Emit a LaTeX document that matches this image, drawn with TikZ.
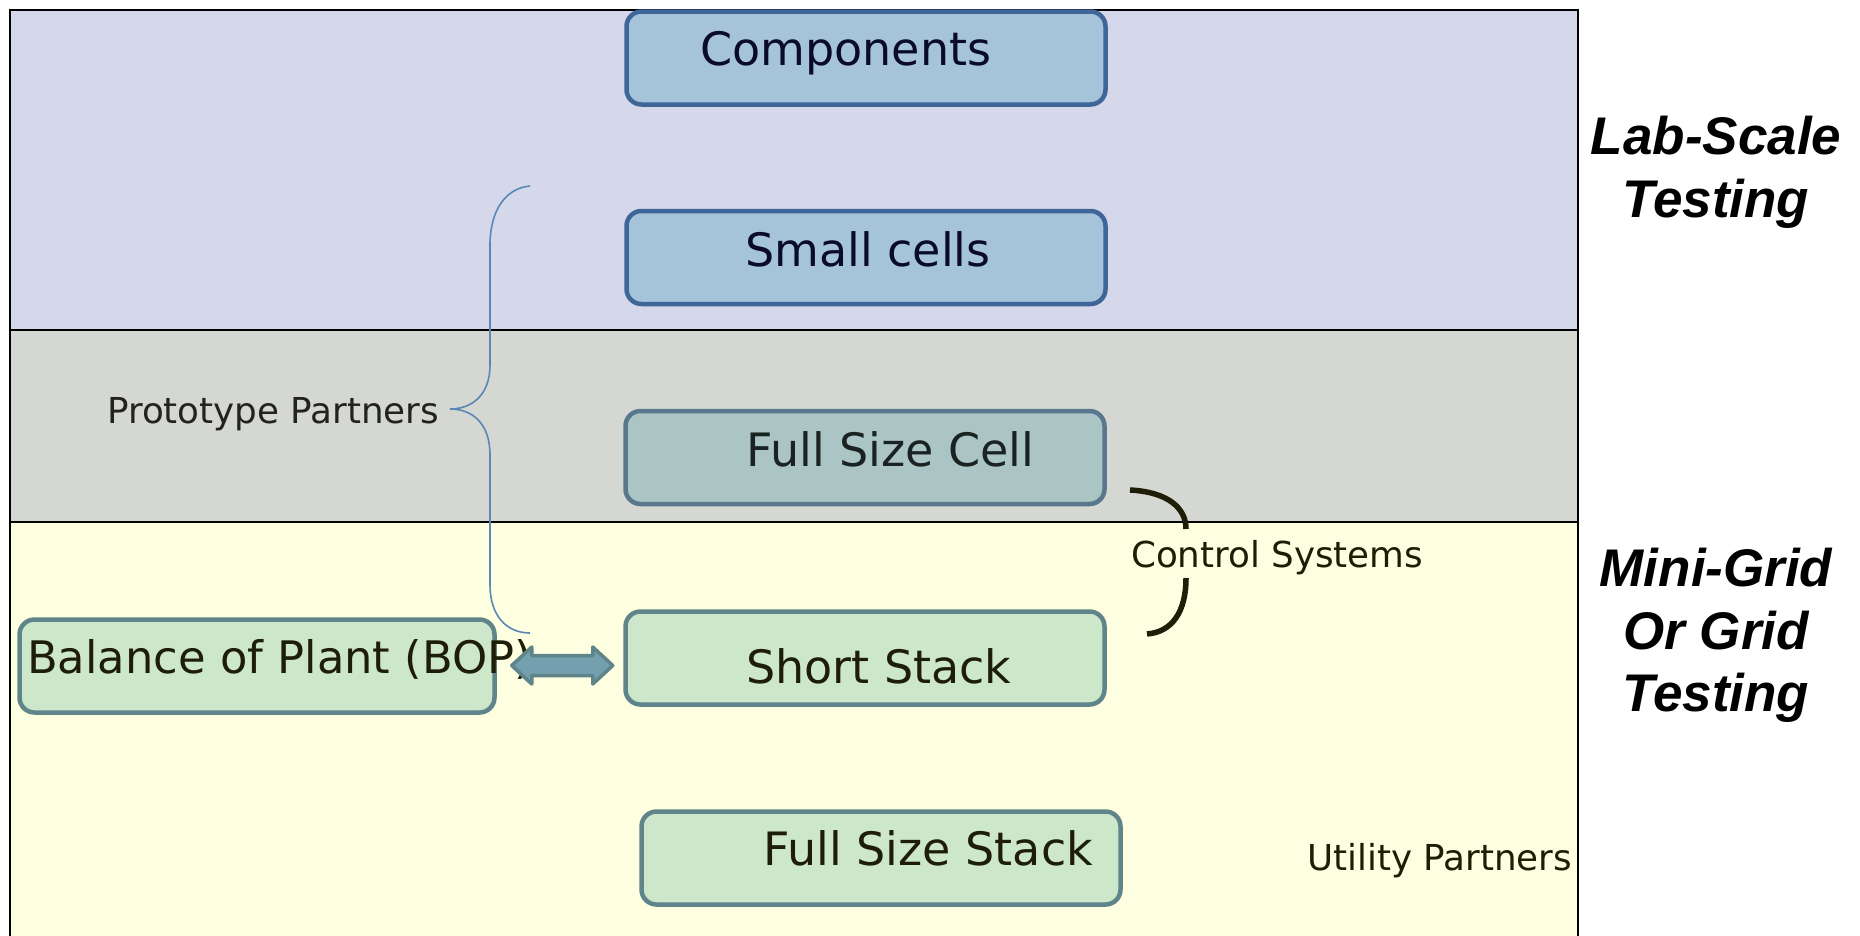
\documentclass[tikz,border=0pt]{standalone}
\usepackage{fontspec}
\setmainfont{DejaVu Sans}
\newfontfamily\arialfont{Liberation Sans}
\usetikzlibrary{calc}
\definecolor{labbg}{HTML}{D5D7EB}
\definecolor{graybg}{HTML}{D5D7D2}
\definecolor{yelbg}{HTML}{FEFEE0}
\definecolor{bluefill}{HTML}{A5C4DA}
\definecolor{blueline}{HTML}{3F6699}
\definecolor{tealfill}{HTML}{AAC5C4}
\definecolor{tealline}{HTML}{58788D}
\definecolor{greenfill}{HTML}{CDE7CB}
\definecolor{greenline}{HTML}{5F8489}
\definecolor{arrowfill}{HTML}{739FAE}
\definecolor{bracecol}{HTML}{5A88B5}
\definecolor{navytext}{HTML}{0A0A2A}
\definecolor{tealtext}{HTML}{1A2222}
\definecolor{olivetext}{HTML}{1E1E08}
\definecolor{graytext}{HTML}{222222}
\begin{document}
\begin{tikzpicture}[x=1pt,y=-1pt,
  boxbase/.style={draw, rounded corners=15pt, line width=4.5pt, inner sep=0pt,
    minimum width=479pt, minimum height=93pt},
  bluebox/.style={boxbase, fill=bluefill, draw=blueline},
  tealbox/.style={boxbase, fill=tealfill, draw=tealline},
  greenbox/.style={boxbase, fill=greenfill, draw=greenline},
  boxtext/.style={anchor=base west, inner sep=0pt, font=\fontsize{46}{55}\selectfont},
  smalltext/.style={anchor=base west, inner sep=0pt, font=\fontsize{35.7}{43}\selectfont},
  sidetext/.style={anchor=north, inner sep=0pt, align=center,
    font=\arialfont\bfseries\itshape\fontsize{53}{62.5}\selectfont},
  regionline/.style={line width=2.5pt, draw=black},
  protobrace/.style={draw=bracecol, line width=1.6pt},
  ctrlbracket/.style={draw=olivetext, line width=5.5pt},
  blockarrow/.style={fill=arrowfill, draw=greenline, line width=3.5pt, line join=round}
]
\useasboundingbox (0,0) rectangle (1860,935);
\fill[white] (0,0) rectangle (1860,935);
% regions
\fill[labbg] (10,10) rectangle (1578,330);
\fill[graybg] (10,330) rectangle (1578,522);
\fill[yelbg] (10,522) rectangle (1578,950);
\draw[regionline] (10,330) -- (1578,330);
\draw[regionline] (10,522) -- (1578,522);
\draw[regionline] (10,950) -- (10,10) -- (1578,10) -- (1578,950);

% prototype partners brace
\coordinate (pbtop) at (530,186);
\coordinate (pbtip) at (450,409);
\coordinate (pbbot) at (530,633);
\draw[protobrace] (pbtop) .. controls (506,188) and (490,210) .. (490,245)
  -- (490,365) .. controls (490,395) and (472,409) .. (pbtip)
  .. controls (472,409) and (490,423) .. (490,455)
  -- (490,585) .. controls (490,615) and (506,633) .. (pbbot);
\node[smalltext, text=graytext] (tproto) at (107,423) {Prototype Partners};

% boxes
\node[bluebox] (comp) at (866,58) {};
\node[bluebox] (small) at (866,257.5) {};
\node[tealbox] (fcell) at (865,457.5) {};
\node[greenbox] (sstack) at (865,658) {};
\node[greenbox, minimum width=475pt] (bop) at (257,666) {};
\node[greenbox] (fstack) at (881,858) {};

\node[boxtext, text=navytext] (tcomp) at (700,65) {Components};
\node[boxtext, text=navytext] (tsmall) at (745,266) {Small cells};
\node[boxtext, text=tealtext] (tfcell) at (746,466) {Full Size Cell};
\node[boxtext, text=olivetext] (tsstack) at (746,683) {Short Stack};
\node[boxtext, text=olivetext] (tfstack) at (763,865) {Full Size Stack};
\node[boxtext, text=olivetext, font=\fontsize{44.8}{54}\selectfont] (tbop) at (27,673) {Balance of Plant (BOP)};

% double block arrow between BOP and Short Stack
\coordinate (al) at ($(bop.east)+(15,-0.5)$);
\draw[blockarrow] (al) -- ++(20,-18.5) -- ++(0,8.5) -- ++(61,0) -- ++(0,-8.5)
  -- ++(20,18.5) -- ++(-20,18.5) -- ++(0,-8.5) -- ++(-61,0) -- ++(0,8.5) -- cycle;

% control systems bracket
\coordinate (cbtop) at (1130,490);
\coordinate (cbbot) at (1147,634);
\draw[ctrlbracket] (cbtop) .. controls (1168,492) and (1186,508) .. (1186,529);
\draw[ctrlbracket] (1186,578) .. controls (1186,612) and (1172,632) .. (cbbot);
\node[smalltext, text=olivetext] (tctrl) at (1131,567) {Control Systems};
\node[smalltext, text=olivetext] (tutil) at (1307,870) {Utility Partners};

% side labels
\node[sidetext] (tlab) at (1716,116) {Lab-Scale\\Testing};
\node[sidetext] (tgrid) at (1716,548) {Mini-Grid\\Or Grid\\Testing};
\end{tikzpicture}
\end{document}
